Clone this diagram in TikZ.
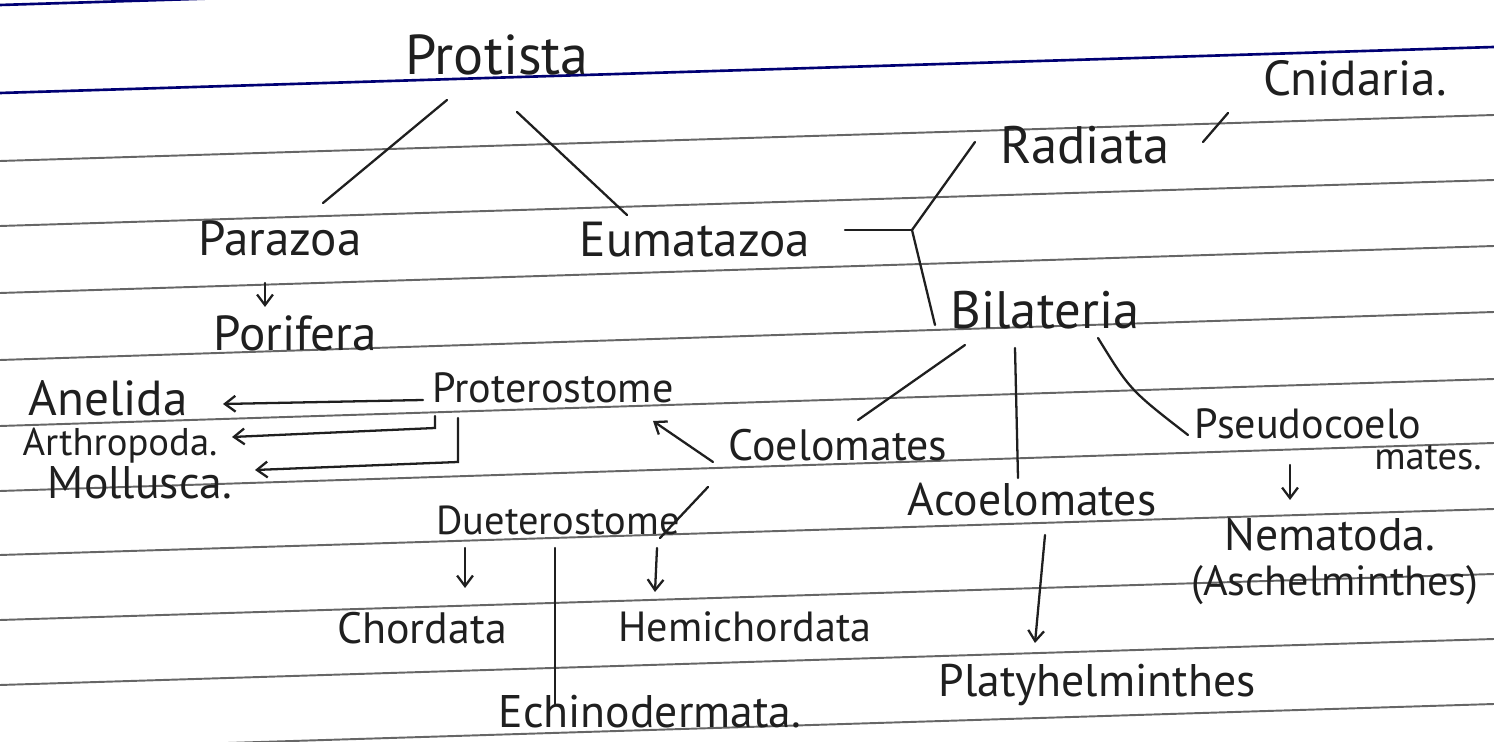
\documentclass[tikz,border=0pt]{standalone}
\usepackage{fontspec}
\setmainfont{PT Sans}
\usetikzlibrary{arrows.meta}
\begin{document}
\begin{tikzpicture}[x=0.02cm,y=-0.02cm,
  lbl/.style={inner sep=0pt, anchor=center, text=black!88, font=\fontsize{#1}{#1}\selectfont},
  lbl/.default=26,
  conn/.style={line width=1.3pt, black!88, line cap=round},
  arr/.style={conn, -{Straight Barb[length=6pt,width=9pt]}},
  rule/.style={line width=1.1pt, black!60},
  brule/.style={line width=1.5pt, blue!45!black}]
\fill[white] (0,0) rectangle (1494,742);
\useasboundingbox (0,0) rectangle (1494,742);
% ruled paper
\begin{scope}
\clip (0,0) rectangle (1494,742);
\draw[brule] (0,5) -- (1494,-41);
\draw[brule] (0,93) -- (1494,47);
\foreach \a/\b in {161/115,226/180,293/246,360/312,426/379,491/443,555/509,620/574,685/639,750/704}
  \draw[rule] (0,\a) -- (1494,\b);
\end{scope}
% labels
\node[lbl=32] (protista) at (497,55) {Protista};
\node[lbl=28] (parazoa) at (280,238) {Parazoa};
\node[lbl=28] (eumeta) at (695,240) {Eumatazoa};
\node[lbl=28] (porifera) at (295,333) {Porifera};
\node[lbl=30] (radiata) at (1085,145) {Radiata};
\node[lbl=28] (cnidaria) at (1355,78) {Cnidaria.};
\node[lbl=30] (bilateria) at (1045,310) {Bilateria};
\node[lbl=24] (proto) at (553,388) {Proterostome};
\node[lbl=28] (anelida) at (108,398) {Anelida};
\node[lbl=22] (arthro) at (120,446) {Arthropoda.};
\node[lbl=26] (mollusca) at (140,483) {Mollusca.};
\node[lbl=25] (coelo) at (838,445) {Coelomates};
\node[lbl=26] (acoelo) at (1032,500) {Acoelomates};
\node[lbl=24] (pseudo) at (1308,424) {Pseudocoelo};
\node[lbl=22] (pmates) at (1428,458) {mates.};
\node[lbl=26] (nema) at (1330,535) {Nematoda.};
\node[lbl=24] (asch) at (1335,585) {(Aschelminthes)};
\node[lbl=23] (deutero) at (558,520) {Dueterostome};
\node[lbl=25] (chord) at (422,628) {Chordata};
\node[lbl=24] (hemi) at (745,627) {Hemichordata};
\node[lbl=26] (echino) at (650,712) {Echinodermata.};
\node[lbl=26] (platy) at (1097,685) {Platyhelminthes};
% connectors
\draw[conn] ([shift={(-50,45)}]protista.center) -- ([shift={(43,-35)}]parazoa.center);
\draw[conn] ([shift={(20,57)}]protista.center) -- ([shift={(-68,-25)}]eumeta.center);
\draw[arr] ([shift={(-15,45)}]parazoa.center) -- ([shift={(-30,-26)}]porifera.center);
\coordinate (ej) at (912,230);
\draw[conn] ([shift={(150,-10)}]eumeta.center) -- (ej);
\draw[conn] (ej) -- ([shift={(-110,-3)}]radiata.center);
\draw[conn] (ej) -- ([shift={(-110,15)}]bilateria.center);
\draw[conn] ([shift={(118,-3)}]radiata.center) -- ([shift={(-127,35)}]cnidaria.center);
\draw[conn] ([shift={(-80,35)}]bilateria.center) -- ([shift={(20,-25)}]coelo.center);
\draw[conn] ([shift={(-30,38)}]bilateria.center) -- ([shift={(-14,-22)}]acoelo.center);
\draw[conn] ([shift={(53,28)}]bilateria.center) .. controls (1130,390) .. ([shift={(-120,11)}]pseudo.center);
\draw[arr] ([shift={(-125,17)}]coelo.center) -- ([shift={(100,33)}]proto.center);
\draw[conn] ([shift={(-130,42)}]coelo.center) -- ([shift={(102,18)}]deutero.center);
\draw[arr] ([shift={(-130,12)}]proto.center) -- ([shift={(115,6)}]anelida.center);
\draw[arr] ([shift={(-118,28)}]proto.center) -- ([shift={(-118,40)}]proto.center) -- ([shift={(112,-9)}]arthro.center);
\draw[arr] ([shift={(-95,30)}]proto.center) -- ([shift={(-95,74)}]proto.center) -- ([shift={(115,-13)}]mollusca.center);
\draw[arr] ([shift={(-93,28)}]deutero.center) -- ([shift={(43,-40)}]chord.center);
\draw[arr] ([shift={(99,28)}]deutero.center) -- ([shift={(-90,-35)}]hemi.center);
\draw[conn] ([shift={(-3,28)}]deutero.center) -- ([shift={(-95,-8)}]echino.center);
\draw[arr] ([shift={(13,35)}]acoelo.center) -- ([shift={(-62,-42)}]platy.center);
\draw[arr] ([shift={(-18,41)}]pseudo.center) -- ([shift={(-40,-35)}]nema.center);
\end{tikzpicture}
\end{document}
